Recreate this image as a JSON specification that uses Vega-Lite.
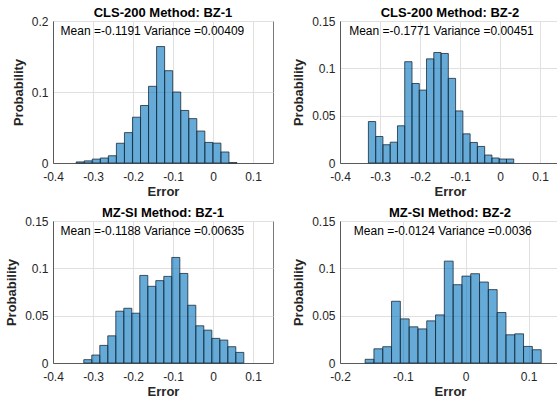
{
  "$schema": "https://vega.github.io/schema/vega-lite/v6.json",
  "background": "white",
  "padding": {"left": 5, "top": 6, "right": 0, "bottom": 0},
  "autosize": {"type": "pad"},
  "config": {
    "font": "Liberation Sans",
    "view": {"stroke": "#7a7a7a", "strokeWidth": 1},
    "axis": {
      "grid": true, "gridColor": "#e0e0e0", "gridWidth": 1,
      "domainColor": "#5a5a5a", "domainWidth": 1,
      "ticks": false, "labelFlush": false,
      "labelFont": "Liberation Sans", "labelFontSize": 12, "labelColor": "#262626",
      "titleFont": "Liberation Sans", "titleFontSize": 13, "titleFontWeight": "bold", "titleColor": "#262626"
    },
    "axisX": {"labelPadding": 8.5, "titlePadding": 2.5},
    "axisY": {"labelPadding": 5, "titlePadding": 6},
    "title": {"font": "Liberation Sans", "fontSize": 13, "fontWeight": "bold", "color": "#000000", "offset": -4.5, "anchor": "middle"}
  },
  "datasets": {
    "hist": [
      {"panel": "p1", "bin_start": -0.342, "bin_end": -0.3219, "prob": 0.0015},
      {"panel": "p1", "bin_start": -0.3219, "bin_end": -0.3018, "prob": 0.003},
      {"panel": "p1", "bin_start": -0.3018, "bin_end": -0.2817, "prob": 0.0055},
      {"panel": "p1", "bin_start": -0.2817, "bin_end": -0.2616, "prob": 0.007},
      {"panel": "p1", "bin_start": -0.2616, "bin_end": -0.2415, "prob": 0.0102},
      {"panel": "p1", "bin_start": -0.2415, "bin_end": -0.2214, "prob": 0.0278},
      {"panel": "p1", "bin_start": -0.2214, "bin_end": -0.2013, "prob": 0.0428},
      {"panel": "p1", "bin_start": -0.2013, "bin_end": -0.1812, "prob": 0.0645},
      {"panel": "p1", "bin_start": -0.1812, "bin_end": -0.1611, "prob": 0.081},
      {"panel": "p1", "bin_start": -0.1611, "bin_end": -0.141, "prob": 0.108},
      {"panel": "p1", "bin_start": -0.141, "bin_end": -0.1209, "prob": 0.164},
      {"panel": "p1", "bin_start": -0.1209, "bin_end": -0.1008, "prob": 0.130},
      {"panel": "p1", "bin_start": -0.1008, "bin_end": -0.0807, "prob": 0.100},
      {"panel": "p1", "bin_start": -0.0807, "bin_end": -0.0606, "prob": 0.074},
      {"panel": "p1", "bin_start": -0.0606, "bin_end": -0.0405, "prob": 0.0625},
      {"panel": "p1", "bin_start": -0.0405, "bin_end": -0.0204, "prob": 0.045},
      {"panel": "p1", "bin_start": -0.0204, "bin_end": -0.0003, "prob": 0.029},
      {"panel": "p1", "bin_start": -0.0003, "bin_end": 0.0198, "prob": 0.028},
      {"panel": "p1", "bin_start": 0.0198, "bin_end": 0.0399, "prob": 0.0155},
      {"panel": "p1", "bin_start": 0.0399, "bin_end": 0.06, "prob": 0.0005},

      {"panel": "p2", "bin_start": -0.329, "bin_end": -0.3108, "prob": 0.0438},
      {"panel": "p2", "bin_start": -0.3108, "bin_end": -0.2927, "prob": 0.028},
      {"panel": "p2", "bin_start": -0.2927, "bin_end": -0.2745, "prob": 0.0193},
      {"panel": "p2", "bin_start": -0.2745, "bin_end": -0.2563, "prob": 0.022},
      {"panel": "p2", "bin_start": -0.2563, "bin_end": -0.2382, "prob": 0.0393},
      {"panel": "p2", "bin_start": -0.2382, "bin_end": -0.22, "prob": 0.107},
      {"panel": "p2", "bin_start": -0.22, "bin_end": -0.2018, "prob": 0.084},
      {"panel": "p2", "bin_start": -0.2018, "bin_end": -0.1837, "prob": 0.077},
      {"panel": "p2", "bin_start": -0.1837, "bin_end": -0.1655, "prob": 0.110},
      {"panel": "p2", "bin_start": -0.1655, "bin_end": -0.1473, "prob": 0.1167},
      {"panel": "p2", "bin_start": -0.1473, "bin_end": -0.1292, "prob": 0.1157},
      {"panel": "p2", "bin_start": -0.1292, "bin_end": -0.111, "prob": 0.0894},
      {"panel": "p2", "bin_start": -0.111, "bin_end": -0.0928, "prob": 0.055},
      {"panel": "p2", "bin_start": -0.0928, "bin_end": -0.0747, "prob": 0.0308},
      {"panel": "p2", "bin_start": -0.0747, "bin_end": -0.0565, "prob": 0.0217},
      {"panel": "p2", "bin_start": -0.0565, "bin_end": -0.0383, "prob": 0.0175},
      {"panel": "p2", "bin_start": -0.0383, "bin_end": -0.0202, "prob": 0.0084},
      {"panel": "p2", "bin_start": -0.0202, "bin_end": -0.002, "prob": 0.0053},
      {"panel": "p2", "bin_start": -0.002, "bin_end": 0.0162, "prob": 0.0042},
      {"panel": "p2", "bin_start": 0.0162, "bin_end": 0.0343, "prob": 0.0042},

      {"panel": "p3", "bin_start": -0.323, "bin_end": -0.303, "prob": 0.0035},
      {"panel": "p3", "bin_start": -0.303, "bin_end": -0.283, "prob": 0.0084},
      {"panel": "p3", "bin_start": -0.283, "bin_end": -0.263, "prob": 0.0186},
      {"panel": "p3", "bin_start": -0.263, "bin_end": -0.243, "prob": 0.0287},
      {"panel": "p3", "bin_start": -0.243, "bin_end": -0.223, "prob": 0.0547},
      {"panel": "p3", "bin_start": -0.223, "bin_end": -0.203, "prob": 0.0578},
      {"panel": "p3", "bin_start": -0.203, "bin_end": -0.183, "prob": 0.0526},
      {"panel": "p3", "bin_start": -0.183, "bin_end": -0.163, "prob": 0.0925},
      {"panel": "p3", "bin_start": -0.163, "bin_end": -0.143, "prob": 0.081},
      {"panel": "p3", "bin_start": -0.143, "bin_end": -0.123, "prob": 0.087},
      {"panel": "p3", "bin_start": -0.123, "bin_end": -0.103, "prob": 0.0915},
      {"panel": "p3", "bin_start": -0.103, "bin_end": -0.083, "prob": 0.1115},
      {"panel": "p3", "bin_start": -0.083, "bin_end": -0.063, "prob": 0.0946},
      {"panel": "p3", "bin_start": -0.063, "bin_end": -0.043, "prob": 0.061},
      {"panel": "p3", "bin_start": -0.043, "bin_end": -0.023, "prob": 0.0393},
      {"panel": "p3", "bin_start": -0.023, "bin_end": -0.003, "prob": 0.0347},
      {"panel": "p3", "bin_start": -0.003, "bin_end": 0.017, "prob": 0.026},
      {"panel": "p3", "bin_start": 0.017, "bin_end": 0.037, "prob": 0.0242},
      {"panel": "p3", "bin_start": 0.037, "bin_end": 0.057, "prob": 0.0172},
      {"panel": "p3", "bin_start": 0.057, "bin_end": 0.077, "prob": 0.0112},

      {"panel": "p4", "bin_start": -0.16, "bin_end": -0.146, "prob": 0.0039},
      {"panel": "p4", "bin_start": -0.146, "bin_end": -0.132, "prob": 0.015},
      {"panel": "p4", "bin_start": -0.132, "bin_end": -0.118, "prob": 0.0172},
      {"panel": "p4", "bin_start": -0.118, "bin_end": -0.104, "prob": 0.0652},
      {"panel": "p4", "bin_start": -0.104, "bin_end": -0.09, "prob": 0.0466},
      {"panel": "p4", "bin_start": -0.09, "bin_end": -0.076, "prob": 0.0382},
      {"panel": "p4", "bin_start": -0.076, "bin_end": -0.062, "prob": 0.036},
      {"panel": "p4", "bin_start": -0.062, "bin_end": -0.048, "prob": 0.0445},
      {"panel": "p4", "bin_start": -0.048, "bin_end": -0.034, "prob": 0.0508},
      {"panel": "p4", "bin_start": -0.034, "bin_end": -0.02, "prob": 0.1076},
      {"panel": "p4", "bin_start": -0.02, "bin_end": -0.006, "prob": 0.0827},
      {"panel": "p4", "bin_start": -0.006, "bin_end": 0.008, "prob": 0.0918},
      {"panel": "p4", "bin_start": 0.008, "bin_end": 0.022, "prob": 0.0943},
      {"panel": "p4", "bin_start": 0.022, "bin_end": 0.036, "prob": 0.0855},
      {"panel": "p4", "bin_start": 0.036, "bin_end": 0.05, "prob": 0.0775},
      {"panel": "p4", "bin_start": 0.05, "bin_end": 0.064, "prob": 0.0533},
      {"panel": "p4", "bin_start": 0.064, "bin_end": 0.078, "prob": 0.0298},
      {"panel": "p4", "bin_start": 0.078, "bin_end": 0.092, "prob": 0.0308},
      {"panel": "p4", "bin_start": 0.092, "bin_end": 0.106, "prob": 0.0175},
      {"panel": "p4", "bin_start": 0.106, "bin_end": 0.12, "prob": 0.014}
    ]
  },
  "columns": 2,
  "spacing": {"row": 58, "column": 67},
  "bounds": "flush",
  "concat": [
    {
      "width": 220, "height": 142,
      "title": "CLS-200 Method: BZ-1",
      "layer": [
        {
          "data": {"name": "hist"},
          "transform": [{"filter": "datum.panel == 'p1'"}],
          "mark": {"type": "bar", "fill": "#0072BD", "fillOpacity": 0.6, "stroke": "#1b2b3a", "strokeWidth": 0.8},
          "encoding": {
            "x": {"field": "bin_start", "type": "quantitative", "scale": {"domain": [-0.4, 0.15], "nice": false, "zero": false},
                  "axis": {"title": "Error", "values": [-0.4, -0.3, -0.2, -0.1, 0, 0.1], "labelExpr": "'' + datum.value"}},
            "x2": {"field": "bin_end"},
            "y": {"field": "prob", "type": "quantitative", "scale": {"domain": [0, 0.2], "nice": false},
                  "axis": {"title": "Probability", "values": [0, 0.05, 0.1, 0.15, 0.2], "labelExpr": "'' + datum.value"}},
            "y2": {"datum": 0}
          }
        },
        {
          "data": {"values": [{"label": "Mean =-0.1191 Variance =0.00409"}]},
          "mark": {"type": "text", "align": "left", "baseline": "middle", "fontSize": 12, "color": "#000000"},
          "encoding": {
            "x": {"datum": -0.381, "type": "quantitative"},
            "y": {"datum": 0.1854, "type": "quantitative"},
            "text": {"field": "label"}
          }
        }
      ]
    },
    {
      "width": 220, "height": 142,
      "title": "CLS-200 Method: BZ-2",
      "layer": [
        {
          "data": {"name": "hist"},
          "transform": [{"filter": "datum.panel == 'p2'"}],
          "mark": {"type": "bar", "fill": "#0072BD", "fillOpacity": 0.6, "stroke": "#1b2b3a", "strokeWidth": 0.8},
          "encoding": {
            "x": {"field": "bin_start", "type": "quantitative", "scale": {"domain": [-0.4, 0.15], "nice": false, "zero": false},
                  "axis": {"title": "Error", "values": [-0.4, -0.3, -0.2, -0.1, 0, 0.1], "labelExpr": "'' + datum.value"}},
            "x2": {"field": "bin_end"},
            "y": {"field": "prob", "type": "quantitative", "scale": {"domain": [0, 0.15], "nice": false},
                  "axis": {"title": "Probability", "values": [0, 0.05, 0.1, 0.15], "labelExpr": "'' + datum.value"}},
            "y2": {"datum": 0}
          }
        },
        {
          "data": {"values": [{"label": "Mean =-0.1771 Variance =0.00451"}]},
          "mark": {"type": "text", "align": "left", "baseline": "middle", "fontSize": 12, "color": "#000000"},
          "encoding": {
            "x": {"datum": -0.377, "type": "quantitative"},
            "y": {"datum": 0.1392, "type": "quantitative"},
            "text": {"field": "label"}
          }
        }
      ]
    },
    {
      "width": 220, "height": 142,
      "title": "MZ-SI Method: BZ-1",
      "layer": [
        {
          "data": {"name": "hist"},
          "transform": [{"filter": "datum.panel == 'p3'"}],
          "mark": {"type": "bar", "fill": "#0072BD", "fillOpacity": 0.6, "stroke": "#1b2b3a", "strokeWidth": 0.8},
          "encoding": {
            "x": {"field": "bin_start", "type": "quantitative", "scale": {"domain": [-0.4, 0.15], "nice": false, "zero": false},
                  "axis": {"title": "Error", "values": [-0.4, -0.3, -0.2, -0.1, 0, 0.1], "labelExpr": "'' + datum.value"}},
            "x2": {"field": "bin_end"},
            "y": {"field": "prob", "type": "quantitative", "scale": {"domain": [0, 0.15], "nice": false},
                  "axis": {"title": "Probability", "values": [0, 0.05, 0.1, 0.15], "labelExpr": "'' + datum.value"}},
            "y2": {"datum": 0}
          }
        },
        {
          "data": {"values": [{"label": "Mean =-0.1188 Variance =0.00635"}]},
          "mark": {"type": "text", "align": "left", "baseline": "middle", "fontSize": 12, "color": "#000000"},
          "encoding": {
            "x": {"datum": -0.381, "type": "quantitative"},
            "y": {"datum": 0.1392, "type": "quantitative"},
            "text": {"field": "label"}
          }
        }
      ]
    },
    {
      "width": 220, "height": 142,
      "title": "MZ-SI Method: BZ-2",
      "layer": [
        {
          "data": {"name": "hist"},
          "transform": [{"filter": "datum.panel == 'p4'"}],
          "mark": {"type": "bar", "fill": "#0072BD", "fillOpacity": 0.6, "stroke": "#1b2b3a", "strokeWidth": 0.8},
          "encoding": {
            "x": {"field": "bin_start", "type": "quantitative", "scale": {"domain": [-0.2, 0.15], "nice": false, "zero": false},
                  "axis": {"title": "Error", "values": [-0.2, -0.1, 0, 0.1], "labelExpr": "'' + datum.value"}},
            "x2": {"field": "bin_end"},
            "y": {"field": "prob", "type": "quantitative", "scale": {"domain": [0, 0.15], "nice": false},
                  "axis": {"title": "Probability", "values": [0, 0.05, 0.1, 0.15], "labelExpr": "'' + datum.value"}},
            "y2": {"datum": 0}
          }
        },
        {
          "data": {"values": [{"label": "Mean =-0.0124 Variance =0.0036"}]},
          "mark": {"type": "text", "align": "left", "baseline": "middle", "fontSize": 12, "color": "#000000"},
          "encoding": {
            "x": {"datum": -0.178, "type": "quantitative"},
            "y": {"datum": 0.1392, "type": "quantitative"},
            "text": {"field": "label"}
          }
        }
      ]
    }
  ]
}
